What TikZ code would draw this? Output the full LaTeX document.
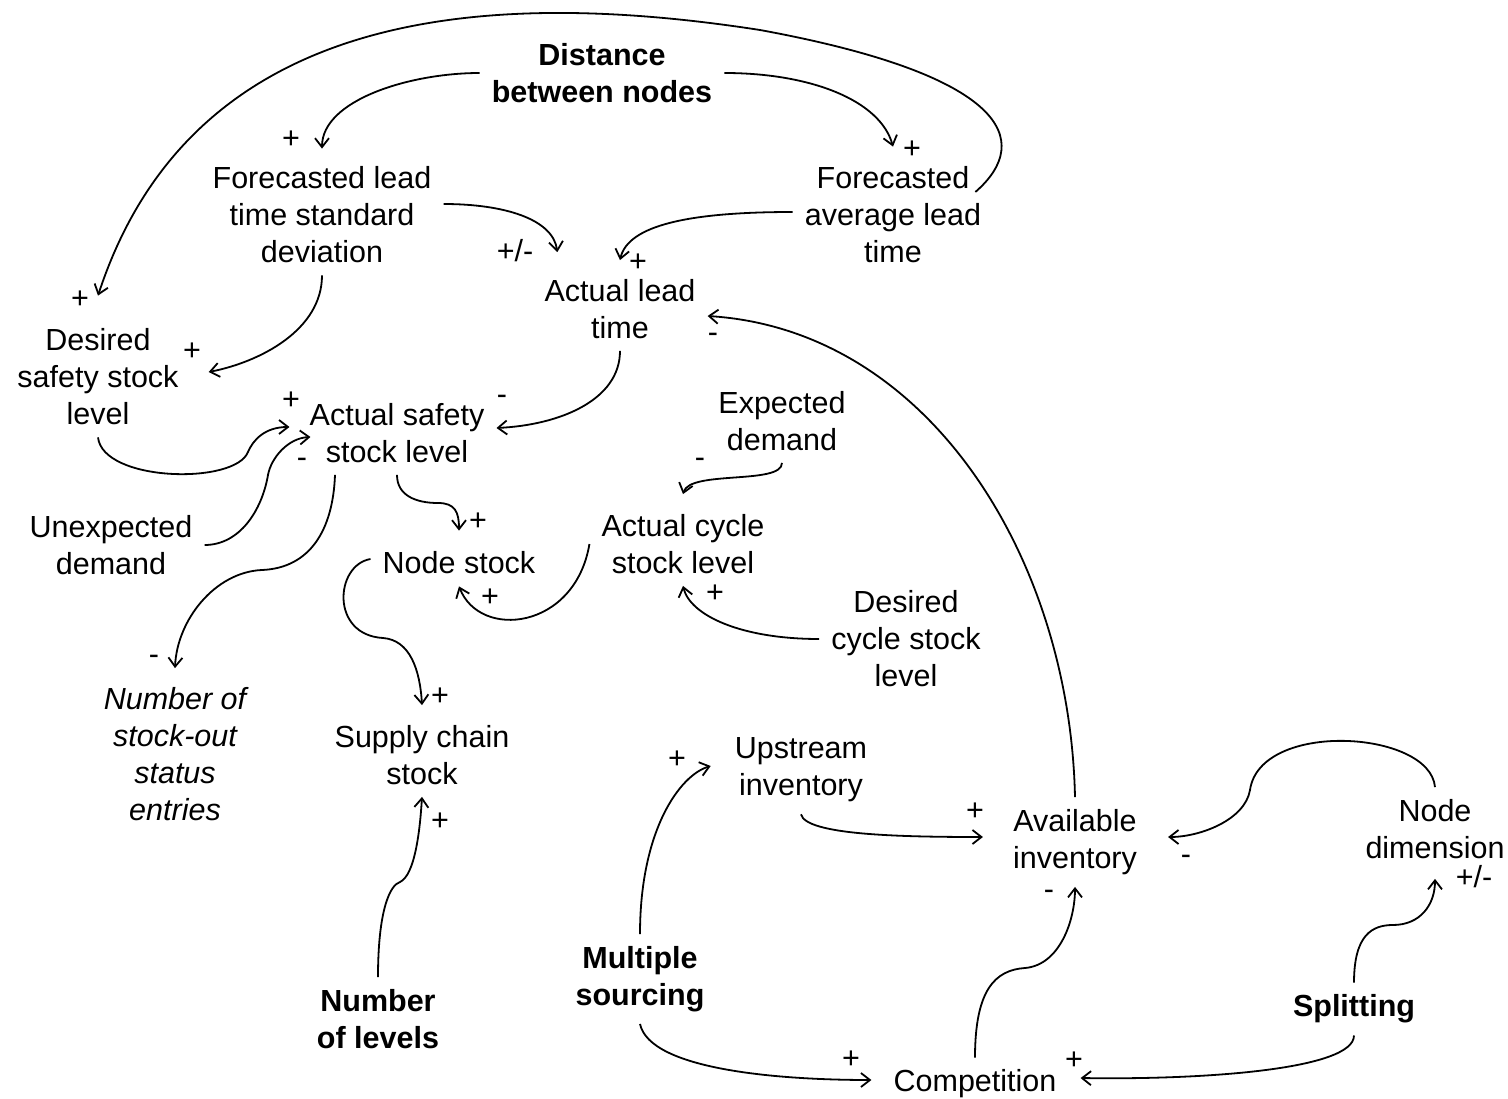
\documentclass[tikz,border=0pt]{standalone}
\usepackage{fontspec}
\setmainfont{Liberation Sans}
\usetikzlibrary{arrows.meta}

\begin{document}
\begin{tikzpicture}[x=1pt, y=-1pt,
		var/.style={align=center, inner sep=12pt, font=\fontsize{30.5}{37}\selectfont},
		driver/.style={var, font=\fontsize{30.5}{37}\selectfont\bfseries},
		sign/.style={inner sep=0pt, font=\fontsize{30.5}{37}\selectfont},
		cause/.style={-{Straight Barb[length=9pt,width=14pt]}, line width=1.8pt}]
				\useasboundingbox (0,0) rectangle (1508,1099);
				% variables
				\node[driver] (dist)at(602, 73) {Distance\\between nodes};
				\node[var] (fsd)at(322, 215) {Forecasted lead\\time standard\\deviation};
				\node[var] (fav)at(893, 215) {Forecasted\\average lead\\time};
				\node[var] (alt)at(620, 309) {Actual lead\\time};
				\node[var] (dss)at(98, 377) {Desired\\safety stock\\level};
				\node[var] (ass)at(397, 433) {Actual safety\\stock level};
				\node[var] (exd)at(782, 421) {Expected\\demand};
				\node[var] (ued)at(111, 545) {Unexpected\\demand};
				\node[var] (ns)at(459, 563) {Node stock};
				\node[var] (acs)at(683, 544) {Actual cycle\\stock level};
				\node[var] (dcs)at(906, 639) {Desired\\cycle stock\\level};
				\node[var, font=\fontsize{30.5}{37}\selectfont\itshape] (nso)at(175, 754) {Number of\\stock-out\\status\\entries};
				\node[var] (scs)at(422, 755) {Supply chain\\stock};
				\node[var] (upi)at(801, 770) {Upstream\\inventory};
				\node[var] (avi)at(1075, 842) {Available\\inventory};
				\node[var] (ndm)at(1435, 829) {Node\\dimension};
				\node[driver] (mso)at(640, 979) {Multiple\\sourcing};
				\node[driver] (nol)at(378, 1019) {Number\\of levels};
				\node[driver] (spl)at(1354, 1009) {Splitting};
				\node[var] (cmp)at(975, 1084) {Competition};
				% links
				\draw[cause] (dist.west) .. controls (410,73) and (322,100) .. ([yshift=6pt]fsd.north);
				\draw[cause] (dist.east) .. controls (810,73) and (880,100) .. ([yshift=8pt]fav.north);
				\draw[cause] ([xshift=-18pt,yshift=23pt]fav.east) .. controls (1035,140) and (1005,75) .. (760,30) .. controls (470,-15) and (190,15) .. ([yshift=21pt]dss.north);
				\draw[cause] ([yshift=11pt]fsd.east) .. controls (504,204) and (553,219) .. ([xshift=25pt,yshift=15pt]alt.north west);
				\draw[cause] ([yshift=3pt]fav.west) .. controls (690,212) and (628,225) .. ([yshift=7pt]alt.north);
				\draw[cause] (alt.south) .. controls (620,400) and (560,425) .. ([yshift=5pt]ass.east);
				\draw[cause] (fsd.south) .. controls (322,330) and (260,362) .. ([xshift=18pt,yshift=5pt]dss.east);
				\draw[cause] (dss.south) .. controls (103,482) and (235,485) .. (248,452) .. controls (253,440) and (265,427) .. ([xshift=-8pt,yshift=6pt]ass.west);
				\draw[cause] (ued.east) .. controls (240,545) and (262,510) .. (268,475) .. controls (271,458) and (288,438) .. ([xshift=13pt,yshift=-4pt]ass.west);
				\draw[cause] ([xshift=-62pt]ass.south) .. controls (333,530) and (310,568) .. (262,570) .. controls (215,572) and (177,620) .. ([yshift=7pt]nso.north);
				\draw[cause] (ass.south) .. controls (397,495) and (415,503) .. (438,503) .. controls (455,503) and (459,512) .. ([yshift=9pt]ns.north);
				\draw[cause] ([yshift=4pt]ns.west) .. controls (335,565) and (330,635) .. (383,638) .. controls (410,640) and (420,670) .. ([yshift=8pt]scs.north);
				\draw[cause] (acs.west) .. controls (575,630) and (480,640) .. (ns.south);
				\draw[cause] (exd.south) .. controls (782,485) and (690,470) .. ([yshift=8pt]acs.north);
				\draw[cause] (dcs.west) .. controls (740,639) and (690,615) .. (acs.south);
				\draw[cause] (avi.north) .. controls (1070,560) and (930,330) .. ([yshift=-7pt]alt.east);
				\draw[cause] (upi.south) .. controls (806,835) and (900,837) .. ([xshift=-18pt,yshift=5pt]avi.west);
				\draw[cause] (ndm.north) .. controls (1430,730) and (1260,720) .. (1250,790) .. controls (1245,820) and (1200,837) .. ([xshift=19pt,yshift=5pt]avi.east);
				\draw[cause] (mso.north) .. controls (640,830) and (680,775) .. ([xshift=-12pt,yshift=4pt]upi.west);
				\draw[cause] (mso.south) .. controls (650,1070) and (780,1080) .. ([xshift=-10pt,yshift=4pt]cmp.west);
				\draw[cause] (cmp.north) .. controls (975,990) and (995,970) .. (1025,968) .. controls (1060,965) and (1075,920) .. (avi.south);
				\draw[cause] (spl.south) .. controls (1354,1070) and (1200,1080) .. ([xshift=12pt,yshift=6pt]cmp.east);
				\draw[cause] (spl.north) .. controls (1354,935) and (1372,925) .. (1393,925) .. controls (1420,925) and (1435,905) .. ([yshift=-8pt]ndm.south);
				\draw[cause] (nol.north) .. controls (378,910) and (390,885) .. (400,882) .. controls (415,875) and (420,830) .. (scs.south);
				% polarities
				\node[sign] (s1)at(291, 140) {+};
				\node[sign] (s2)at(912, 150) {+};
				\node[sign] (s3)at(80, 300) {+};
				\node[sign] (s4)at(515, 251) {+/-};
				\node[sign] (s5)at(638, 263) {+};
				\node[sign] (s6)at(502, 400) {-};
				\node[sign] (s7)at(192, 352) {+};
				\node[sign] (s8)at(291, 401) {+};
				\node[sign] (s9)at(302, 463) {-};
				\node[sign] (s10)at(154, 660) {-};
				\node[sign] (s11)at(478, 522) {+};
				\node[sign] (s12)at(440, 697) {+};
				\node[sign] (s13)at(490, 598) {+};
				\node[sign] (s14)at(700, 463) {-};
				\node[sign] (s15)at(715, 594) {+};
				\node[sign] (s16)at(713, 338) {-};
				\node[sign] (s17)at(975, 812) {+};
				\node[sign] (s18)at(1186, 860) {-};
				\node[sign] (s19)at(677, 760) {+};
				\node[sign] (s20)at(851, 1060) {+};
				\node[sign] (s21)at(1049, 895) {-};
				\node[sign] (s22)at(1074, 1061) {+};
				\node[sign] (s23)at(1474, 877) {+/-};
				\node[sign] (s24)at(440, 822) {+};
			\end{tikzpicture}
\end{document}
